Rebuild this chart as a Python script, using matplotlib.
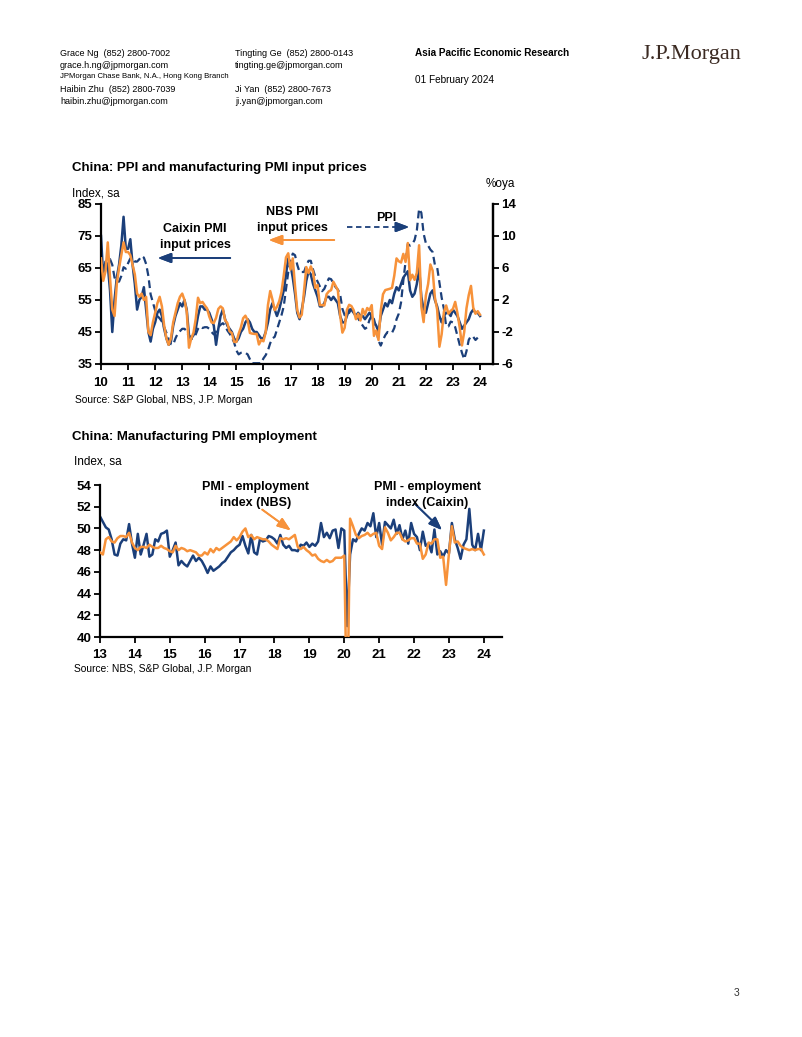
import numpy as np
import matplotlib
matplotlib.use("Agg")
import matplotlib.pyplot as plt
from matplotlib.lines import Line2D

plt.rcParams['font.family'] = ['Liberation Sans', 'DejaVu Sans']
plt.rcParams['axes.unicode_minus'] = False

W, H = 802, 1037
NAVY = '#1B3F7A'
ORANGE = '#F7923A'

# ---- Chart 1 data: monthly, Jan 2010 - Jan 2024 ----
caixin_input = [
    75, 62, 67, 66, 58, 45, 55, 62, 66, 72, 81, 71,
    71, 74, 66, 60, 52, 55, 56, 59, 52, 45, 42, 46,
    48, 51, 52, 50, 46, 43, 41, 42, 47, 50, 52, 54,
    53, 55, 52, 44, 43, 44, 46, 50, 53, 53, 52, 52,
    51, 49, 47, 41, 46, 50, 52, 49, 47, 46, 45, 43,
    42, 43, 45, 46, 48, 49, 48, 46, 45, 45, 44, 43,
    43, 45, 48, 52, 54, 52, 50, 52, 55, 58, 63, 68,
    66, 62, 57, 51, 49, 52, 56, 61, 64, 63, 60, 58,
    56, 53, 53, 54, 56, 56, 55, 56, 55, 54, 50, 48,
    48, 50, 52, 52, 51, 50, 51, 50, 50, 49, 50, 51,
    50, 48, 47, 45, 50, 52, 54, 53, 55, 54, 57, 59,
    58, 60, 62, 63, 64, 58, 56, 57, 60, 65, 56, 52,
    51, 54, 57, 58, 55, 53, 50, 48, 50, 51, 51, 50,
    52, 51, 50, 48, 46, 47, 48, 49, 51, 52, 51, 51,
    50,
]
nbs_input = [
    68, 61, 64, 73, 62, 52, 50, 60, 65, 69, 73, 70,
    70, 69, 66, 63, 57, 56, 57, 55, 56, 45, 44, 48,
    51, 54, 56, 53, 47, 43, 41, 43, 48, 51, 54, 56,
    57, 55, 51.4, 40.1, 43.0, 44.8, 49.1, 55.7, 54.0, 54.4, 53.3, 52.4,
    49.8, 48.0, 47.8, 49.4, 52.2, 53.0, 52.4, 48.7, 47.8, 45.2, 44.7, 41.9,
    41.9, 44.4, 46.4, 49.3, 50.1, 48.7, 44.7, 44.5, 44.4, 44.4, 41.1, 42.5,
    42.1, 44.9, 53.4, 57.8, 55.1, 51.8, 52.9, 54.6, 57.5, 62.6, 68.3, 69.6,
    64.5, 68.0, 59.3, 51.8, 49.5, 50.4, 57.9, 65.3, 63.4, 65.5, 63.8, 58.8,
    59.7, 53.4, 53.4, 53.3, 56.8, 57.7, 58.1, 60.7, 59.4, 58.0, 50.3, 44.8,
    46.3, 51.9, 53.5, 53.1, 51.8, 49.0, 50.7, 48.6, 52.2, 50.4, 52.5, 51.8,
    53.4, 43.8, 45.5, 42.5, 51.6, 56.8, 58.1, 58.3, 58.5, 58.8, 62.6, 68.0,
    67.1, 66.7, 69.4, 66.9, 72.8, 61.2, 62.9, 61.3, 63.5, 72.1, 52.9, 48.1,
    56.4, 60.0, 66.1, 64.2, 55.8, 52.0, 40.4, 44.3, 51.3, 53.3, 50.7, 51.6,
    52.2, 54.4, 50.9, 46.4, 40.8, 45.0, 52.4, 56.5, 59.4, 52.6, 50.7, 51.5,
    50.4,
]
ppi_yoy = [
    4.3, 5.4, 5.9, 6.8, 7.1, 6.4, 4.8, 4.3, 4.3, 5.0, 6.1, 5.9,
    6.6, 7.2, 7.3, 6.8, 6.8, 7.1, 7.5, 7.3, 6.5, 5.0, 2.7, 1.7,
    0.7, 0.0, -0.3, -0.7, -1.4, -2.1, -2.9, -3.5, -3.6, -2.8, -2.2, -1.9,
    -1.6, -1.6, -1.9, -2.6, -2.9, -2.7, -2.3, -1.6, -1.3, -1.5, -1.4, -1.4,
    -1.6, -2.0, -2.3, -2.0, -1.4, -1.1, -0.9, -1.2, -1.8, -2.2, -2.7, -3.3,
    -4.3, -4.8, -4.6, -4.6, -4.6, -4.8, -5.4, -5.9, -5.9, -5.9, -5.9, -5.9,
    -5.3, -4.9, -4.3, -3.4, -2.8, -2.6, -1.7, -0.8, 0.1, 1.2, 3.3, 5.5,
    6.9, 7.8, 7.6, 6.4, 5.5, 5.5, 5.5, 6.3, 6.9, 6.9, 5.8, 4.9,
    4.3, 3.7, 3.1, 3.4, 4.1, 4.7, 4.6, 4.1, 3.6, 3.3, 2.7, 0.9,
    0.1, 0.1, 0.4, 0.9, 0.6, 0.0, -0.3, -0.8, -1.2, -1.6, -1.4, -0.5,
    0.1, -0.4, -1.5, -3.1, -3.7, -3.0, -2.4, -2.0, -2.1, -2.1, -1.5, -0.4,
    0.3, 1.7, 4.4, 6.8, 9.0, 8.8, 9.0, 9.5, 10.7, 13.4, 12.9, 10.3,
    9.1, 8.8, 8.3, 8.0, 6.4, 6.1, 4.2, 2.3, 0.9, -1.3, -1.3, -0.7,
    -0.8, -1.4, -2.5, -3.6, -4.6, -5.4, -4.4, -3.0, -2.5, -2.6, -3.0, -2.7,
]

# ---- Chart 2 data: monthly, Jan 2013 - Jan 2024 ----
nbs_emp = [
    47.8, 47.6, 49.0, 49.2, 48.8, 48.7, 49.1, 49.3, 49.3, 49.2, 49.6, 48.7,
    48.2, 48.0, 48.3, 48.3, 48.2, 48.5, 48.3, 48.2, 48.2, 48.4, 48.2, 48.1,
    47.9, 47.8, 48.4, 48.0, 48.2, 48.1, 47.9, 48.0, 47.9, 47.8, 47.5, 47.5,
    47.8, 47.6, 48.1, 47.8, 48.2, 48.0, 48.2, 48.4, 48.6, 48.8, 49.2, 48.9,
    49.2, 49.7, 50.0, 49.2, 49.4, 49.0, 49.2, 49.1, 49.0, 49.0, 48.8, 48.5,
    48.3, 48.1, 49.1, 49.0, 49.1, 49.0, 49.2, 49.4, 48.3, 48.1, 48.3, 48.0,
    47.8, 47.5, 47.6, 47.2, 47.0, 46.9, 47.1, 46.9, 47.0, 47.3, 47.3, 47.3,
    47.5, 31.8, 50.9, 50.2, 49.4, 49.1, 49.3, 49.4, 49.6, 49.3, 49.5, 49.6,
    48.4, 48.1, 50.1, 49.6, 48.9, 49.2, 49.6, 49.6, 49.0, 48.8, 48.9, 49.1,
    49.1, 48.6, 48.6, 47.2, 47.6, 48.7, 48.6, 49.0, 49.0, 47.3, 47.4, 44.8,
    47.7, 50.2, 48.7, 48.8, 48.4, 48.2, 48.1, 48.0, 48.1, 48.0, 48.1, 48.1,
    47.6,
]
caixin_emp = [
    51.1, 50.6, 50.1, 49.9, 49.0, 47.6, 47.5, 48.6, 49.0, 48.9, 50.4, 48.6,
    47.3, 49.5, 47.6, 48.5, 49.5, 47.4, 47.6, 49.0, 48.8, 49.5, 49.6, 49.8,
    47.4, 48.0, 48.7, 46.6, 47.0, 46.7, 46.5, 47.0, 47.5, 47.0, 47.3, 47.0,
    46.5, 45.9, 46.5, 46.1, 46.3, 46.5, 46.8, 47.0, 47.4, 47.8, 48.0, 48.3,
    48.5, 49.3, 48.4, 47.7, 49.4, 47.8, 47.6, 49.0, 48.8, 48.9, 49.3, 49.2,
    49.0, 48.6, 49.4, 48.5, 48.2, 48.4, 48.0, 48.0, 47.9, 48.5, 48.4, 48.7,
    48.3, 48.6, 48.4, 48.8, 50.5, 49.2, 49.6, 49.1, 49.8, 49.9, 48.2, 50.0,
    49.8, 41.0, 47.6, 49.0, 48.8, 49.5, 50.0, 49.8, 50.5, 50.2, 51.4, 49.2,
    50.5, 48.5, 50.6, 50.3, 50.0, 50.8, 49.5, 50.3, 49.0, 49.8, 48.6, 50.5,
    49.5, 49.2, 48.0, 49.7, 48.4, 48.6, 47.8, 49.9, 47.6, 47.9, 47.4, 48.0,
    47.7, 50.5, 49.0, 48.2, 47.2, 48.5, 49.0, 51.8, 48.5, 48.0, 49.5, 48.0,
    49.8,
]

t1 = 2010 + np.arange(len(caixin_input)) / 12
t1p = 2010 + np.arange(len(ppi_yoy)) / 12
t2 = 2013 + np.arange(len(nbs_emp)) / 12


def fx(x):
    return x / W


def fy(y):
    return 1 - y / H


def rect(l, t, r, b):
    return [fx(l), fy(b), (r - l) / W, (b - t) / H]


fig = plt.figure(figsize=(W / 100, H / 100), dpi=100)

# ---- header ----
hs = 6.5
fig.text(fx(60), fy(53), 'Grace Ng  (852) 2800-7002', fontsize=hs, va='center')
fig.text(fx(60), fy(65), 'grace.h.ng@jpmorgan.com', fontsize=hs, va='center')
fig.text(fx(60), fy(77), 'JPMorgan Chase Bank, N.A., Hong Kong Branch', fontsize=5.6, va='center')
fig.text(fx(60), fy(90), 'Haibin Zhu  (852) 2800-7039', fontsize=hs, va='center')
fig.text(fx(60), fy(102), 'haibin.zhu@jpmorgan.com', fontsize=hs, va='center')
fig.text(fx(235), fy(53), 'Tingting Ge  (852) 2800-0143', fontsize=hs, va='center')
fig.text(fx(235), fy(65), 'tingting.ge@jpmorgan.com', fontsize=hs, va='center')
fig.text(fx(235), fy(90), 'Ji Yan  (852) 2800-7673', fontsize=hs, va='center')
fig.text(fx(235), fy(102), 'ji.yan@jpmorgan.com', fontsize=hs, va='center')
fig.text(fx(415), fy(53), 'Asia Pacific Economic Research', fontsize=7.2, fontweight='bold', va='center')
fig.text(fx(415), fy(80), '01 February 2024', fontsize=7.2, va='center')
fig.text(fx(691), fy(55), 'J.P.Morgan', fontsize=16, family='Liberation Serif',
         color='#3B2A22', ha='center', va='center')
fig.text(fx(737), fy(993), '3', fontsize=7.5, color='#333333', ha='center', va='center')


def style(ax):
    ax.spines['top'].set_visible(False)
    for s in ax.spines.values():
        s.set_linewidth(1.6)
    ax.tick_params(direction='out', length=4, width=1.3, labelsize=9.5, pad=2)
    ax.tick_params(axis='x', pad=5)
    for lab in ax.get_xticklabels() + ax.get_yticklabels():
        lab.set_fontweight('bold')


# ---- chart 1 ----
fig.text(fx(72), fy(168), 'China: PPI and manufacturing PMI input prices',
         fontsize=9.5, fontweight='bold', va='center')
fig.text(fx(72), fy(193), 'Index, sa', fontsize=8.5, va='center')
fig.text(fx(486), fy(184), '%oya', fontsize=8.5, va='center')
fig.text(fx(75), fy(400), 'Source: S&P Global, NBS, J.P. Morgan', fontsize=7.4, va='center')

ax1 = fig.add_axes(rect(101, 204, 493, 364))
ax2 = ax1.twinx()
ax1.plot(t1, nbs_input, color=ORANGE, lw=1.8, zorder=3)
ax1.plot(t1, caixin_input, color=NAVY, lw=1.8, zorder=2)
ax2.plot(t1p, ppi_yoy, color=NAVY, lw=1.6, ls=(0, (3.5, 2)))
ax1.set_zorder(ax2.get_zorder() + 1)
ax1.patch.set_visible(False)
ax1.set_xlim(2010, 2024.48)
ax1.set_ylim(35, 85)
ax2.set_ylim(-6, 14)
ax1.set_yticks([35, 45, 55, 65, 75, 85])
ax2.set_yticks([-6, -2, 2, 6, 10, 14])
years1 = np.arange(2010, 2025)
ax1.set_xticks(years1)
ax1.set_xticklabels([f'{y % 100:02d}' for y in years1])
style(ax1)
style(ax2)
ax2.spines['left'].set_visible(False)
ax2.spines['bottom'].set_visible(False)

fig.text(fx(195), fy(229), 'Caixin PMI', fontsize=9, fontweight='bold', ha='center', va='center')
fig.text(fx(195), fy(245), 'input prices', fontsize=9, fontweight='bold', ha='center', va='center')
fig.text(fx(292), fy(212), 'NBS PMI', fontsize=9, fontweight='bold', ha='center', va='center')
fig.text(fx(292), fy(228), 'input prices', fontsize=9, fontweight='bold', ha='center', va='center')
fig.text(fx(386), fy(218), 'PPI', fontsize=9, fontweight='bold', ha='center', va='center')

fig.add_artist(plt.annotate('', xy=(fx(155), fy(258)), xytext=(fx(233), fy(258)),
               xycoords='figure fraction', textcoords='figure fraction',
               arrowprops=dict(arrowstyle='-|>,head_length=0.8,head_width=0.3', color=NAVY, lw=1.3)))
fig.add_artist(plt.annotate('', xy=(fx(266), fy(240)), xytext=(fx(337), fy(240)),
               xycoords='figure fraction', textcoords='figure fraction',
               arrowprops=dict(arrowstyle='-|>,head_length=0.8,head_width=0.3', color=ORANGE, lw=1.3)))
fig.add_artist(Line2D([fx(347), fx(400)], [fy(227), fy(227)], color=NAVY, lw=1.3, ls=(0, (3, 2))))
fig.add_artist(plt.annotate('', xy=(fx(412), fy(227)), xytext=(fx(399), fy(227)),
               xycoords='figure fraction', textcoords='figure fraction',
               arrowprops=dict(arrowstyle='-|>,head_length=0.8,head_width=0.3', color=NAVY, lw=1.3)))

# ---- chart 2 ----
fig.text(fx(72), fy(437), 'China: Manufacturing PMI employment',
         fontsize=9.5, fontweight='bold', va='center')
fig.text(fx(74), fy(461), 'Index, sa', fontsize=8.5, va='center')
fig.text(fx(74), fy(669), 'Source: NBS, S&P Global, J.P. Morgan', fontsize=7.4, va='center')

ax3 = fig.add_axes(rect(100, 485, 502, 637))
ax3.plot(t2, caixin_emp, color=NAVY, lw=1.8, zorder=2)
ax3.plot(t2, nbs_emp, color=ORANGE, lw=1.8, zorder=3)
ax3.set_xlim(2013, 2024.52)
ax3.set_ylim(40, 54)
ax3.set_yticks(np.arange(40, 55, 2))
years2 = np.arange(2013, 2025)
ax3.set_xticks(years2)
ax3.set_xticklabels([f'{y % 100:02d}' for y in years2])
style(ax3)
ax3.spines['right'].set_visible(False)

fig.text(fx(256), fy(487), 'PMI - employment', fontsize=9, fontweight='bold', ha='center', va='center')
fig.text(fx(256), fy(503), 'index (NBS)', fontsize=9, fontweight='bold', ha='center', va='center')
fig.text(fx(427), fy(487), 'PMI - employment', fontsize=9, fontweight='bold', ha='center', va='center')
fig.text(fx(427), fy(503), 'index (Caixin)', fontsize=9, fontweight='bold', ha='center', va='center')
fig.add_artist(plt.annotate('', xy=(fx(293), fy(532)), xytext=(fx(260), fy(508)),
               xycoords='figure fraction', textcoords='figure fraction',
               arrowprops=dict(arrowstyle='-|>,head_length=0.8,head_width=0.3', color=ORANGE, lw=1.3)))
fig.add_artist(plt.annotate('', xy=(fx(444), fy(532)), xytext=(fx(413), fy(502)),
               xycoords='figure fraction', textcoords='figure fraction',
               arrowprops=dict(arrowstyle='-|>,head_length=0.8,head_width=0.3', color=NAVY, lw=1.3)))

fig.savefig('out.png', dpi=100)
